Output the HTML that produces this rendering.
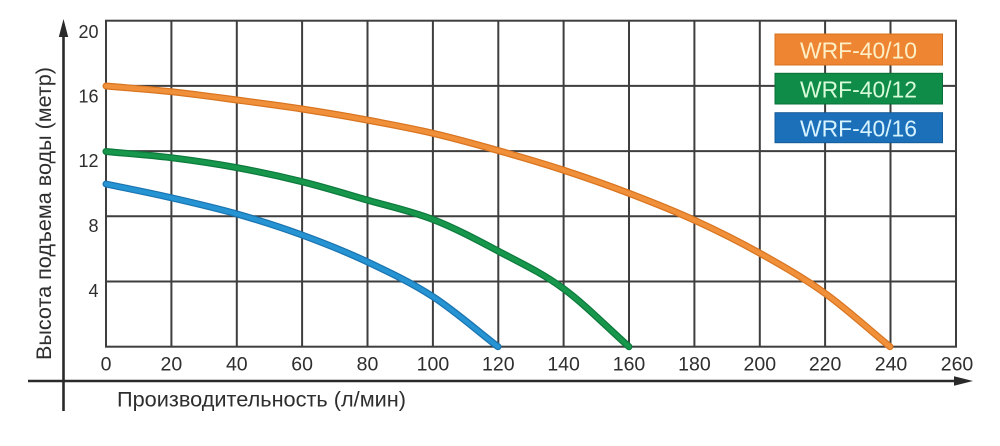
<!DOCTYPE html>
<html>
<head>
<meta charset="utf-8">
<style>
  html,body{margin:0;padding:0;background:#fff;}
  svg{display:block;}
  text{font-family:"Liberation Sans","DejaVu Sans",sans-serif;}
</style>
</head>
<body>
<svg width="1000" height="446" viewBox="0 0 1000 446" xmlns="http://www.w3.org/2000/svg">
  <rect width="1000" height="446" fill="#ffffff"/>

  <!-- grid -->
  <g stroke="#3e3e3e" stroke-width="2" fill="none">
    <rect x="106" y="20.7" width="850" height="326"/>
    <line x1="171.4" y1="20.7" x2="171.4" y2="346.7"/>
    <line x1="236.8" y1="20.7" x2="236.8" y2="346.7"/>
    <line x1="302.1" y1="20.7" x2="302.1" y2="346.7"/>
    <line x1="367.5" y1="20.7" x2="367.5" y2="346.7"/>
    <line x1="432.9" y1="20.7" x2="432.9" y2="346.7"/>
    <line x1="498.3" y1="20.7" x2="498.3" y2="346.7"/>
    <line x1="563.6" y1="20.7" x2="563.6" y2="346.7"/>
    <line x1="629" y1="20.7" x2="629" y2="346.7"/>
    <line x1="694.4" y1="20.7" x2="694.4" y2="346.7"/>
    <line x1="759.8" y1="20.7" x2="759.8" y2="346.7"/>
    <line x1="825.1" y1="20.7" x2="825.1" y2="346.7"/>
    <line x1="890.5" y1="20.7" x2="890.5" y2="346.7"/>
    <line x1="106" y1="85.9" x2="956" y2="85.9"/>
    <line x1="106" y1="151.1" x2="956" y2="151.1"/>
    <line x1="106" y1="216.3" x2="956" y2="216.3"/>
    <line x1="106" y1="281.5" x2="956" y2="281.5"/>
  </g>

  <!-- axes -->
  <g stroke="#2a2a2a" stroke-width="2.6" fill="none">
    <line x1="63.5" y1="30" x2="63.5" y2="411"/>
    <line x1="28" y1="381" x2="958" y2="381"/>
  </g>
  <polygon points="63.5,19 58.8,37 68.2,37" fill="#2a2a2a"/>
  <polygon points="973,381 954,376.2 954,385.8" fill="#2a2a2a"/>

  <!-- y tick labels -->
  <g fill="#2e2e2e" font-size="18" text-anchor="end">
    <text x="98.5" y="38">20</text>
    <text x="98.5" y="102.5">16</text>
    <text x="98.5" y="167">12</text>
    <text x="98.5" y="232">8</text>
    <text x="98.5" y="297">4</text>
  </g>

  <!-- x tick labels -->
  <g fill="#2e2e2e" font-size="19.5" text-anchor="middle">
    <text x="106" y="370.6">0</text>
    <text x="171.4" y="370.6">20</text>
    <text x="236.8" y="370.6">40</text>
    <text x="302.1" y="370.6">60</text>
    <text x="367.5" y="370.6">80</text>
    <text x="432.9" y="370.6">100</text>
    <text x="498.3" y="370.6">120</text>
    <text x="563.6" y="370.6">140</text>
    <text x="629" y="370.6">160</text>
    <text x="694.4" y="370.6">180</text>
    <text x="759.8" y="370.6">200</text>
    <text x="825.1" y="370.6">220</text>
    <text x="891" y="370.6">240</text>
    <text x="957" y="370.6">260</text>
  </g>

  <!-- axis titles -->
  <text x="117" y="406.7" font-size="21" fill="#2e2e2e" textLength="289" lengthAdjust="spacingAndGlyphs">Производительность (л/мин)</text>
  <text transform="translate(51,360) rotate(-90)" x="0" y="0" font-size="21" fill="#2e2e2e" textLength="293" lengthAdjust="spacingAndGlyphs">Высота подъема воды (метр)</text>

  <!-- curves -->
  <g fill="none" stroke-linecap="round" stroke-linejoin="round">
    <path id="o" stroke="#d97521" stroke-width="7" d="M106,86 C127.67,87.9 149.17,89.37 171,91.7 C192.83,94.03 215.17,97.12 237,100 C258.83,102.88 280.33,105.67 302,109 C323.67,112.33 345.17,115.95 367,120 C388.83,124.05 411.17,128.22 433,133.3 C454.83,138.38 476.33,144.38 498,150.5 C519.67,156.62 541.17,162.87 563,170 C584.83,177.13 607.17,184.97 629,193.3 C650.83,201.63 672.17,210 694,220 C715.83,230 738.17,241.08 760,253.3 C781.83,265.52 803.33,277.73 825,293.3 C846.67,308.87 868.33,328.9 890,346.7"/>
    <path stroke="#f0903a" stroke-width="4.5" d="M106,86 C127.67,87.9 149.17,89.37 171,91.7 C192.83,94.03 215.17,97.12 237,100 C258.83,102.88 280.33,105.67 302,109 C323.67,112.33 345.17,115.95 367,120 C388.83,124.05 411.17,128.22 433,133.3 C454.83,138.38 476.33,144.38 498,150.5 C519.67,156.62 541.17,162.87 563,170 C584.83,177.13 607.17,184.97 629,193.3 C650.83,201.63 672.17,210 694,220 C715.83,230 738.17,241.08 760,253.3 C781.83,265.52 803.33,277.73 825,293.3 C846.67,308.87 868.33,328.9 890,346.7"/>

    <path stroke="#0d7a3c" stroke-width="7" d="M106,151.5 C127.67,153.57 149.17,155 171,157.7 C192.83,160.4 215.17,163.7 237,167.7 C258.83,171.7 280.33,176.32 302,181.7 C323.67,187.08 345.17,193.7 367,200 C388.83,206.3 411.17,211 433,219.5 C454.83,228 476.33,239.53 498,251 C519.67,262.47 541.17,272.35 563,288.3 C584.83,304.25 607,327.23 629,346.7"/>
    <path stroke="#17974c" stroke-width="4.5" d="M106,151.5 C127.67,153.57 149.17,155 171,157.7 C192.83,160.4 215.17,163.7 237,167.7 C258.83,171.7 280.33,176.32 302,181.7 C323.67,187.08 345.17,193.7 367,200 C388.83,206.3 411.17,211 433,219.5 C454.83,228 476.33,239.53 498,251 C519.67,262.47 541.17,272.35 563,288.3 C584.83,304.25 607,327.23 629,346.7"/>

    <path stroke="#1a74b0" stroke-width="7" d="M106,184 C127.67,188.57 149.17,192.7 171,197.7 C192.83,202.7 215.17,207.78 237,214 C258.83,220.22 280.33,227.05 302,235 C323.67,242.95 345.17,251.42 367,261.7 C388.83,271.98 411.17,282.53 433,296.7 C454.83,310.87 476.33,330.03 498,346.7"/>
    <path stroke="#2693d3" stroke-width="4.5" d="M106,184 C127.67,188.57 149.17,192.7 171,197.7 C192.83,202.7 215.17,207.78 237,214 C258.83,220.22 280.33,227.05 302,235 C323.67,242.95 345.17,251.42 367,261.7 C388.83,271.98 411.17,282.53 433,296.7 C454.83,310.87 476.33,330.03 498,346.7"/>
  </g>

  <!-- legend -->
  <rect x="775" y="34" width="167.5" height="31" fill="#ee8532" stroke="#d7711f" stroke-width="1"/>
  <rect x="775" y="73.3" width="167.5" height="30.7" fill="#0f8c47" stroke="#0a7038" stroke-width="1"/>
  <rect x="775" y="112.7" width="167.5" height="30" fill="#1b70b9" stroke="#155c99" stroke-width="1"/>
  <g font-size="23" text-anchor="middle">
    <text x="858.5" y="58.5" fill="#fdf0c6" textLength="117" lengthAdjust="spacingAndGlyphs">WRF-40/10</text>
    <text x="858.5" y="97.5" fill="#d8fbd8" textLength="117" lengthAdjust="spacingAndGlyphs">WRF-40/12</text>
    <text x="858.5" y="136.5" fill="#d6f3ff" textLength="117" lengthAdjust="spacingAndGlyphs">WRF-40/16</text>
  </g>
</svg>
</body>
</html>
